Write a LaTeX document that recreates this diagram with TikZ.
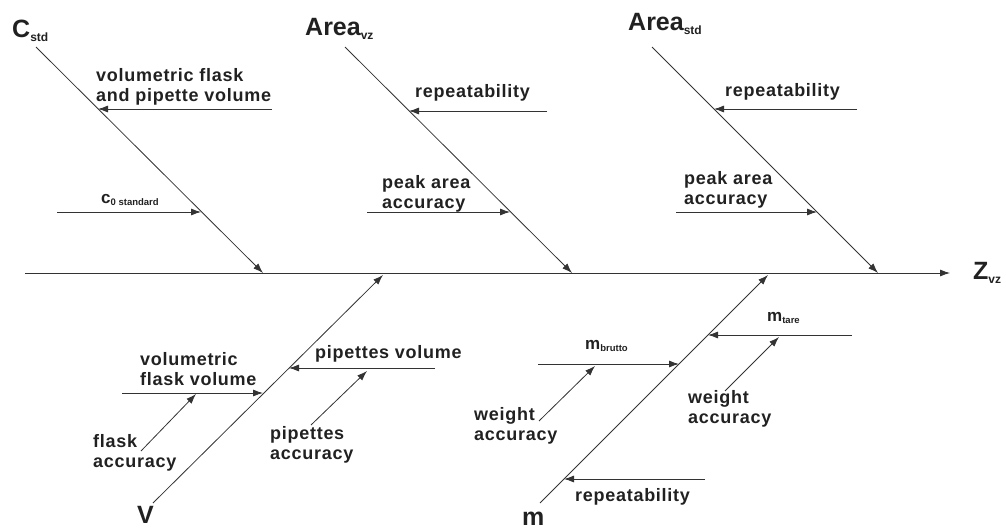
\documentclass[tikz,border=0pt]{standalone}
\usepackage{fontspec}
\setmainfont{Liberation Sans}
\usetikzlibrary{arrows.meta}
\definecolor{ink}{gray}{0.13}
\definecolor{wire}{gray}{0.2}
\newcommand{\lab}[2]{#1\raisebox{-4pt}{\fontsize{12}{12}\selectfont #2}}
\newcommand{\sml}[2]{#1\raisebox{-2.5pt}{\fontsize{9.5}{10}\selectfont #2}}
\tikzset{
  bone/.style={draw=wire, line width=0.8pt, -{Latex[length=10pt,width=7pt]}},
  twig/.style={draw=wire, line width=0.8pt, -{Latex[length=10pt,width=7pt]}},
  txt/.style={anchor=base west, inner sep=0pt, text=ink, font=\bfseries\fontsize{18}{20}\selectfont\addfontfeature{LetterSpace=4}, align=left},
  big/.style={anchor=base west, inner sep=0pt, text=ink, font=\bfseries\fontsize{25}{25}\selectfont},
  mid/.style={anchor=base west, inner sep=0pt, text=ink, font=\bfseries\fontsize{17}{17}\selectfont},
}
\begin{document}
\begin{tikzpicture}[x=1pt,y=-1pt]
\useasboundingbox (0,0) rectangle (1006,530);
% spine
\coordinate (s0) at (25,273);
\coordinate (s1) at (950,273);
\draw[bone] (s0) -- (s1);
\node[big] (Z) at (973,279) {\lab{Z}{vz}};
% C_std
\node[big] (C) at (12,37) {\lab{C}{std}};
\coordinate (c1) at (36,47); \coordinate (c2) at (263,273);
\draw[bone] (c1) -- (c2);
\coordinate (cb1s) at (272,109); \coordinate (cb1e) at (98,109);
\draw[twig] (cb1s) -- (cb1e);
\node[txt] (cb1l) at (96,101) {volumetric flask\\and pipette volume};
\coordinate (cb2s) at (57,212); \coordinate (cb2e) at (201,212);
\draw[twig] (cb2s) -- (cb2e);
\node[mid] (cb2l) at (101,203) {\sml{c}{0 standard}};
% Area_vz
\node[big] (Av) at (305,35) {\lab{Area}{vz}};
\coordinate (a1) at (345,47); \coordinate (a2) at (572,273);
\draw[bone] (a1) -- (a2);
\coordinate (ab1s) at (547,111); \coordinate (ab1e) at (409,111);
\draw[twig] (ab1s) -- (ab1e);
\node[txt] (ab1l) at (415,97) {repeatability};
\coordinate (ab2s) at (367,212); \coordinate (ab2e) at (510,212);
\draw[twig] (ab2s) -- (ab2e);
\node[txt] (ab2l) at (382,208) {peak area\\accuracy};
% Area_std
\node[big] (As) at (628,30) {\lab{Area}{std}};
\coordinate (b1) at (652,47); \coordinate (b2) at (878,273);
\draw[bone] (b1) -- (b2);
\coordinate (sb1s) at (857,109); \coordinate (sb1e) at (714,109);
\draw[twig] (sb1s) -- (sb1e);
\node[txt] (sb1l) at (725,96) {repeatability};
\coordinate (sb2s) at (676,212); \coordinate (sb2e) at (817,212);
\draw[twig] (sb2s) -- (sb2e);
\node[txt] (sb2l) at (684,204) {peak area\\accuracy};
% V
\node[big] (V) at (137,523) {V};
\coordinate (v1) at (153,503); \coordinate (v2) at (383,275);
\draw[bone] (v1) -- (v2);
\coordinate (vb1s) at (122,393); \coordinate (vb1e) at (263,393);
\draw[twig] (vb1s) -- (vb1e);
\node[txt] (vb1l) at (140,385) {volumetric\\flask volume};
\coordinate (vb1as) at (141,451); \coordinate (vb1ae) at (196,394);
\draw[twig] (vb1as) -- (vb1ae);
\node[txt] (vb1al) at (93,467) {flask\\accuracy};
\coordinate (vb2s) at (435,368); \coordinate (vb2e) at (289,368);
\draw[twig] (vb2s) -- (vb2e);
\node[txt] (vb2l) at (315,358) {pipettes volume};
\coordinate (vb2as) at (311,425); \coordinate (vb2ae) at (367,371);
\draw[twig] (vb2as) -- (vb2ae);
\node[txt] (vb2al) at (270,459) {pipettes\\accuracy};
% m
\node[big] (M) at (522,525) {m};
\coordinate (m1) at (540,503); \coordinate (m2) at (768,275);
\draw[bone] (m1) -- (m2);
\coordinate (mb1s) at (538,364); \coordinate (mb1e) at (679,364);
\draw[twig] (mb1s) -- (mb1e);
\node[mid] (mb1l) at (585,349) {\sml{m}{brutto}};
\coordinate (mb1as) at (539,421); \coordinate (mb1ae) at (595,366);
\draw[twig] (mb1as) -- (mb1ae);
\node[txt] (mb1al) at (474,440) {weight\\accuracy};
\coordinate (mb2s) at (852,335); \coordinate (mb2e) at (708,335);
\draw[twig] (mb2s) -- (mb2e);
\node[mid] (mb2l) at (767,321) {\sml{m}{tare}};
\coordinate (mb2as) at (725,391); \coordinate (mb2ae) at (779,337);
\draw[twig] (mb2as) -- (mb2ae);
\node[txt] (mb2al) at (688,423) {weight\\accuracy};
\coordinate (mb3s) at (705,479); \coordinate (mb3e) at (564,479);
\draw[twig] (mb3s) -- (mb3e);
\node[txt] (mb3l) at (575,501) {repeatability};
\end{tikzpicture}
\end{document}
